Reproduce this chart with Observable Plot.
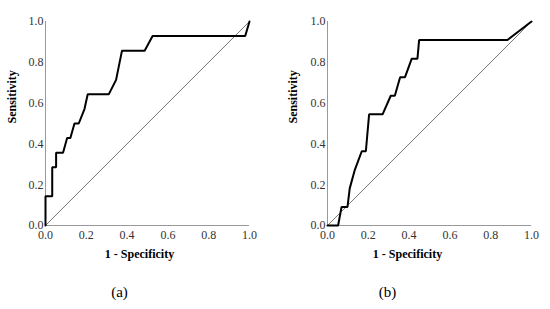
<!DOCTYPE html>
<html>
<head>
<meta charset="utf-8">
<script src="https://cdn.jsdelivr.net/npm/d3@7"></script>
<script src="https://cdn.jsdelivr.net/npm/@observablehq/plot@0.6"></script>
<style>
  body { margin: 0; background: #fff; }
  #wrap { display: flex; width: 550px; height: 309px; }
  #wrap > div { width: 275px; height: 309px; }
  #wrap svg, #wrap svg text { font-family: "Liberation Serif", "Times New Roman", "DejaVu Serif", serif !important; }
</style>
</head>
<body>
<div id="wrap"><div id="a"></div><div id="b"></div></div>
<script>
const fprA = [0, 0, 0.033, 0.033, 0.052, 0.052, 0.086, 0.106, 0.122, 0.142, 0.163, 0.191, 0.207, 0.31, 0.346, 0.375, 0.486, 0.525, 0.979, 1];
const tprA = [0, 0.143, 0.143, 0.286, 0.286, 0.357, 0.357, 0.429, 0.429, 0.5, 0.5, 0.571, 0.643, 0.643, 0.714, 0.857, 0.857, 0.929, 0.929, 1];
const fprB = [0, 0.052, 0.069, 0.098, 0.109, 0.134, 0.168, 0.188, 0.204, 0.27, 0.31, 0.33, 0.356, 0.38, 0.413, 0.441, 0.449, 0.882, 1];
const tprB = [0, 0, 0.091, 0.091, 0.182, 0.273, 0.364, 0.364, 0.545, 0.545, 0.636, 0.636, 0.727, 0.727, 0.818, 0.818, 0.909, 0.909, 1];
const ticks = [0, 0.2, 0.4, 0.6, 0.8, 1.0];
const diag = [0, 1];
const xLabel = "1 - Specificity";
const yLabel = "Sensitivity";
const captions = ["(a)", "(b)"];

const FONT = "Liberation Serif";

function roc(fpr, tpr, opts) {
  const pts = fpr.map((x, i) => ({x, y: tpr[i]}));
  return Plot.plot({
    width: 275,
    height: 309,
    marginLeft: opts.ml,
    marginRight: 275 - opts.ml - 204,
    marginTop: 21,
    marginBottom: 84,
    style: {fontFamily: FONT, fontSize: "12px", color: "#333", background: "transparent"},
    x: {domain: [0, 1], axis: null},
    y: {domain: [0, 1], axis: null},
    marks: [
      Plot.axisX(ticks, {tickSize: 0, tickPadding: 5, tickFormat: d3.format(".1f"), label: null, fontSize: 12, fontFamily: FONT}),
      Plot.axisY(ticks, {tickSize: 0, tickPadding: 2, tickFormat: d3.format(".1f"), label: null, fontSize: 12, fontFamily: FONT}),
      Plot.ruleX([0], {y1: 0, y2: 1, stroke: "#999", strokeWidth: 1}),
      Plot.ruleY([0], {x1: 0, x2: 1, stroke: "#999", strokeWidth: 1}),
      Plot.line(diag.map(d => ({x: d, y: d})), {x: "x", y: "y", stroke: "#777", strokeWidth: 1}),
      Plot.line(pts, {x: "x", y: "y", stroke: "#000", strokeWidth: 2, strokeLinejoin: "miter"}),
      Plot.text([yLabel], {frameAnchor: "left", rotate: -90, dx: opts.ydx, fontWeight: "bold", fontSize: 12, fill: "#000", fontFamily: FONT}),
      Plot.text([xLabel], {frameAnchor: "bottom", dy: 32, dx: opts.xdx, fontWeight: "bold", fontSize: 12, fill: "#000", fontFamily: FONT}),
      Plot.text([opts.cap], {frameAnchor: "bottom", dy: 71, dx: opts.cdx, fontSize: 15, fill: "#000", fontFamily: FONT})
    ]
  });
}

document.getElementById("a").append(roc(fprA, tprA, {ml: 45, ydx: -33, xdx: -8, cdx: -28, cap: captions[0]}));
document.getElementById("b").append(roc(fprB, tprB, {ml: 52, ydx: -34, xdx: -22, cdx: -42, cap: captions[1]}));
</script>
</body>
</html>
